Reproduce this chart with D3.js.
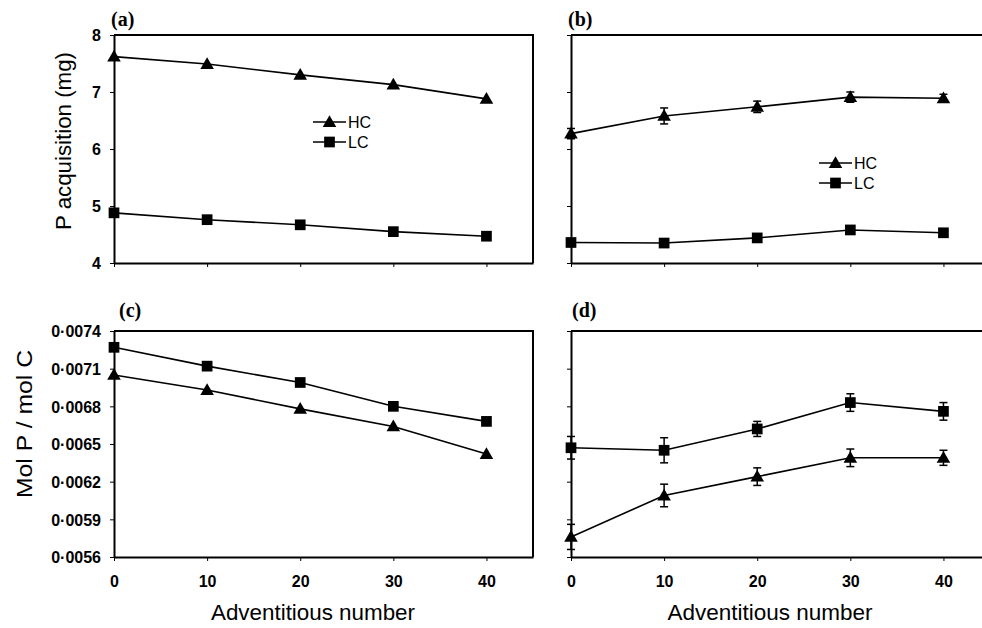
<!DOCTYPE html>
<html>
<head>
<meta charset="utf-8">
<script src="https://cdn.jsdelivr.net/npm/d3@7"></script>
<style>
  body { margin: 0; background: #fff; }
  .tick text { font-family: Arial, "Liberation Sans", sans-serif; font-weight: bold; font-size: 16px; fill: #000; }
  .axis-title { font-family: Arial, "Liberation Sans", sans-serif; font-size: 22px; fill: #000; }
  .panel-label { font-family: "Times New Roman", "Liberation Serif", serif; font-weight: bold; font-size: 20px; }
  .legend-text { font-family: Arial, "Liberation Sans", sans-serif; font-size: 16px; }
</style>
</head>
<body>
<script>
var width = 982,
    height = 628;

// adventitious number
var xValues = [0, 10, 20, 30, 40];
var xTicks = [0, 10, 20, 30, 40];

// (a) P acquisition (mg)
var hcA = [7.62, 7.49, 7.30, 7.13, 6.88];
var lcA = [4.88, 4.76, 4.67, 4.55, 4.47];

// (b) P acquisition (mg), with errors
var hcB = [6.27, 6.58, 6.74, 6.91, 6.89];
var hcBErr = [0.09, 0.14, 0.10, 0.09, 0.07];
var lcB = [4.36, 4.35, 4.44, 4.58, 4.53];
var lcBErr = [0.04, 0.03, 0.04, 0.04, 0.03];

// (c) mol P / mol C
var hcC = [0.00705, 0.00693, 0.00678, 0.00664, 0.00642];
var lcC = [0.00727, 0.00712, 0.00699, 0.00680, 0.00668];

// (d) mol P / mol C, with errors
var hcD = [0.00576, 0.00609, 0.00624, 0.00639, 0.00639];
var hcDErr = [0.00010, 0.00009, 0.00007, 0.00007, 0.00006];
var lcD = [0.00647, 0.00645, 0.00662, 0.00683, 0.00676];
var lcDErr = [0.00009, 0.00010, 0.00006, 0.00007, 0.00007];

var yTicksTop = [4, 5, 6, 7, 8];
var yTicksBottom = [0.0056, 0.0059, 0.0062, 0.0065, 0.0068, 0.0071, 0.0074];

var svg = d3.select("body").append("svg")
  .attr("width", width)
  .attr("height", height)
  .attr("id", "canvas");

var triangle = d3.symbol().type(d3.symbolTriangle).size(80);
var square = d3.symbol().type(d3.symbolSquare).size(115);

var yScaleTop = d3.scaleLinear().domain([4, 8]).range([263, 35]);
var yScaleBottom = d3.scaleLinear().domain([0.0056, 0.0074]).range([557, 331]);

var xScaleLeft = d3.scaleLinear().domain([0, 45]).range([114, 533]);
var xScaleRight = d3.scaleLinear().domain([0, 45]).range([571, 990]);

var fmtSmall = function(d) { return d3.format(".4f")(d).replace(".", "\u00b7"); };

function panel(opts) {
  var x = opts.x, y = opts.y;
  var g = svg.append("g");
  var x0 = x.range()[0], x1 = x.range()[1];
  var y0 = y.range()[0], y1 = y.range()[1];

  //frame: top and right
  g.append("path")
    .attr("d", "M" + x0 + "," + y1 + "H" + x1 + "V" + y0)
    .attr("fill", "none")
    .attr("stroke", "#000")
    .attr("stroke-width", 2);

  var yAxisCall = d3.axisLeft(y).tickValues(opts.yTicks).tickSize(4).tickSizeOuter(0)
    .tickFormat(opts.yLabels ? opts.yFormat : "");
  g.append("g")
    .attr("transform", "translate(" + x0 + ",0)")
    .call(yAxisCall)
    .call(function(a) {
      a.select(".domain").attr("stroke-width", 2);
      a.selectAll(".tick text").attr("x", -13).attr("dy", "0.36em");
    });

  var xAxisCall = d3.axisBottom(x).tickValues(xTicks).tickSize(4).tickSizeOuter(0)
    .tickFormat(opts.xLabels ? d3.format("d") : "");
  g.append("g")
    .attr("transform", "translate(0," + y0 + ")")
    .call(xAxisCall)
    .call(function(a) {
      a.select(".domain").attr("stroke-width", 2);
      a.selectAll(".tick text").attr("y", 19).attr("dy", "0.71em");
    });

  var line = d3.line()
    .x(function(d) { return x(d.x); })
    .y(function(d) { return y(d.y); });

  opts.series.forEach(function(s) {
    var pts = xValues.map(function(v, i) { return {x: v, y: s.values[i], e: s.err ? s.err[i] : 0}; });

    g.append("path")
      .datum(pts)
      .attr("d", line)
      .attr("fill", "none")
      .attr("stroke", "#000")
      .attr("stroke-width", 1.6);

    if (s.err) {
      var bars = g.selectAll(null).data(pts).enter().append("g");
      bars.append("line")
        .attr("x1", function(d) { return x(d.x); })
        .attr("x2", function(d) { return x(d.x); })
        .attr("y1", function(d) { return y(d.y - d.e); })
        .attr("y2", function(d) { return y(d.y + d.e); })
        .attr("stroke", "#000").attr("stroke-width", 1.5);
      [-1, 1].forEach(function(sign) {
        bars.append("line")
          .attr("x1", function(d) { return x(d.x) - 4; })
          .attr("x2", function(d) { return x(d.x) + 4; })
          .attr("y1", function(d) { return y(d.y + sign * d.e); })
          .attr("y2", function(d) { return y(d.y + sign * d.e); })
          .attr("stroke", "#000").attr("stroke-width", 1.5);
      });
    }

    g.selectAll(null).data(pts).enter().append("path")
      .attr("d", s.shape)
      .attr("transform", function(d) { return "translate(" + x(d.x) + "," + (y(d.y) + (s.shape === triangle ? 1 : 0)) + ")"; })
      .attr("fill", "#000");
  });

  //legend
  if (opts.legend) {
    var lg = g.append("g").attr("transform", "translate(" + opts.legend[0] + "," + opts.legend[1] + ")");
    [["HC", triangle], ["LC", square]].forEach(function(it, i) {
      var ly = i * 20;
      lg.append("line").attr("x1", 0).attr("x2", 33).attr("y1", ly).attr("y2", ly)
        .attr("stroke", "#000").attr("stroke-width", 1.6);
      lg.append("path").attr("d", it[1]).attr("transform", "translate(16.5," + (ly + (i === 0 ? 1 : 0)) + ")");
      lg.append("text").attr("class", "legend-text").attr("x", 35).attr("y", ly + 6).text(it[0]);
    });
  }

  //panel letter
  svg.append("text")
    .attr("class", "panel-label")
    .attr("x", opts.label[1])
    .attr("y", opts.label[2])
    .text(opts.label[0]);
}

panel({x: xScaleLeft, y: yScaleTop, yTicks: yTicksTop, yLabels: true, yFormat: d3.format("d"), xLabels: false,
  series: [{values: hcA, shape: triangle}, {values: lcA, shape: square}],
  legend: [313, 122], label: ["(a)", 111, 26]});

panel({x: xScaleRight, y: yScaleTop, yTicks: yTicksTop, yLabels: false, xLabels: false,
  series: [{values: hcB, err: hcBErr, shape: triangle}, {values: lcB, err: lcBErr, shape: square}],
  legend: [819, 163], label: ["(b)", 568, 26]});

panel({x: xScaleLeft, y: yScaleBottom, yTicks: yTicksBottom, yLabels: true, yFormat: fmtSmall, xLabels: true,
  series: [{values: hcC, shape: triangle}, {values: lcC, shape: square}],
  label: ["(c)", 119, 317]});

panel({x: xScaleRight, y: yScaleBottom, yTicks: yTicksBottom, yLabels: false, xLabels: true,
  series: [{values: hcD, err: hcDErr, shape: triangle}, {values: lcD, err: lcDErr, shape: square}],
  label: ["(d)", 572, 317]});

//axis titles
svg.append("text")
  .attr("class", "axis-title")
  .attr("text-anchor", "middle")
  .attr("transform", "translate(71,141) rotate(-90)")
  .attr("textLength", 178).attr("lengthAdjust", "spacingAndGlyphs")
  .text("P acquisition (mg)");
svg.append("text")
  .attr("class", "axis-title")
  .attr("text-anchor", "middle")
  .attr("transform", "translate(32,424) rotate(-90)")
  .attr("textLength", 148).attr("lengthAdjust", "spacingAndGlyphs")
  .text("Mol P / mol C");
svg.append("text")
  .attr("class", "axis-title")
  .attr("text-anchor", "middle")
  .attr("x", 313).attr("y", 620)
  .attr("textLength", 204).attr("lengthAdjust", "spacingAndGlyphs")
  .text("Adventitious number");
svg.append("text")
  .attr("class", "axis-title")
  .attr("text-anchor", "middle")
  .attr("x", 770).attr("y", 620)
  .attr("textLength", 205).attr("lengthAdjust", "spacingAndGlyphs")
  .text("Adventitious number");
</script>
</body>
</html>
